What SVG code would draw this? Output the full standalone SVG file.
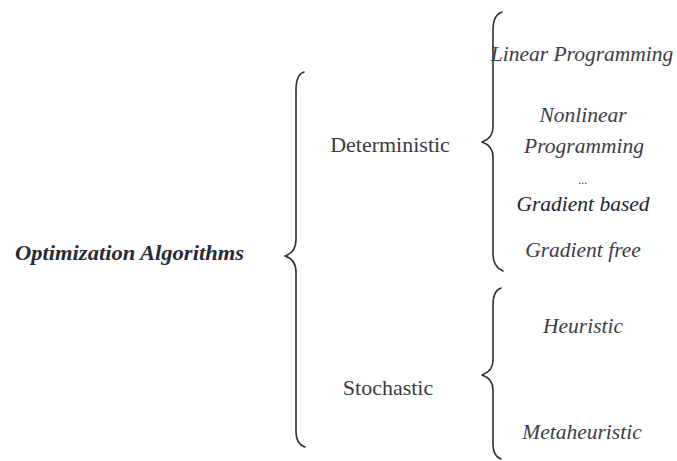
<svg xmlns="http://www.w3.org/2000/svg" width="677" height="461" viewBox="0 0 677 461">
  <style>
    .brace { fill: none; stroke: #2e2e2e; stroke-width: 1.6; stroke-linecap: round; stroke-linejoin: round; }
    text { font-family: 'Liberation Serif', Tinos, 'Times New Roman', 'DejaVu Serif', serif; }
    .root { font-size: 22px; font-weight: bold; font-style: italic; fill: #2a2a36; }
    .mid { font-size: 22px; fill: #3a3a44; text-anchor: middle; }
    .leaf { font-size: 21.5px; font-style: italic; fill: #3c3c48; text-anchor: middle; }
  </style>
  <rect width="677" height="461" fill="#ffffff"/>

  <!-- braces -->
  <g id="connectors">
    <path class="brace" d="M304,72 C298,74 296,80 296,90 L296,240 C296,250 291,254 285,256 C291,258 296,262 296,272 L296,432 C296,440 299,445 305,447"/>
    <path class="brace" d="M502,12 C496,14 493,20 493,30 L493,127 C493,136 488,140 482,142 C488,144 493,148 493,157 L493,254 C493,262 496,268 503,271"/>
    <path class="brace" d="M501,288 C495,290 493,296 493,305 L493,360 C493,369 488,373 482,375 C488,377 493,381 493,390 L493,444 C493,452 495,457 501,459"/>
  </g>

  <g id="optimization-algorithms">
    <text class="root" x="15" y="260" textLength="229" lengthAdjust="spacingAndGlyphs">Optimization  Algorithms</text>
  </g>

  <g id="deterministic">
    <text class="mid" x="390" y="152">Deterministic</text>
  </g>

  <g id="stochastic">
    <text class="mid" x="388" y="395">Stochastic</text>
  </g>

  <g id="linear-programming">
    <text class="leaf" x="582" y="61">Linear Programming</text>
  </g>

  <g id="nonlinear-programming">
    <text class="leaf" x="583" y="122">Nonlinear</text>
    <text class="leaf" x="584" y="153">Programming</text>
  </g>

  <g id="ellipsis">
    <text class="leaf" x="583" y="184" style="font-size:12px">...</text>
  </g>

  <g id="gradient-based">
    <text class="leaf" x="583" y="211" style="fill:#23232e">Gradient based</text>
  </g>

  <g id="gradient-free">
    <text class="leaf" x="583" y="257">Gradient free</text>
  </g>

  <g id="heuristic">
    <text class="leaf" x="583" y="333">Heuristic</text>
  </g>

  <g id="metaheuristic">
    <text class="leaf" x="582" y="439">Metaheuristic</text>
  </g>
</svg>
